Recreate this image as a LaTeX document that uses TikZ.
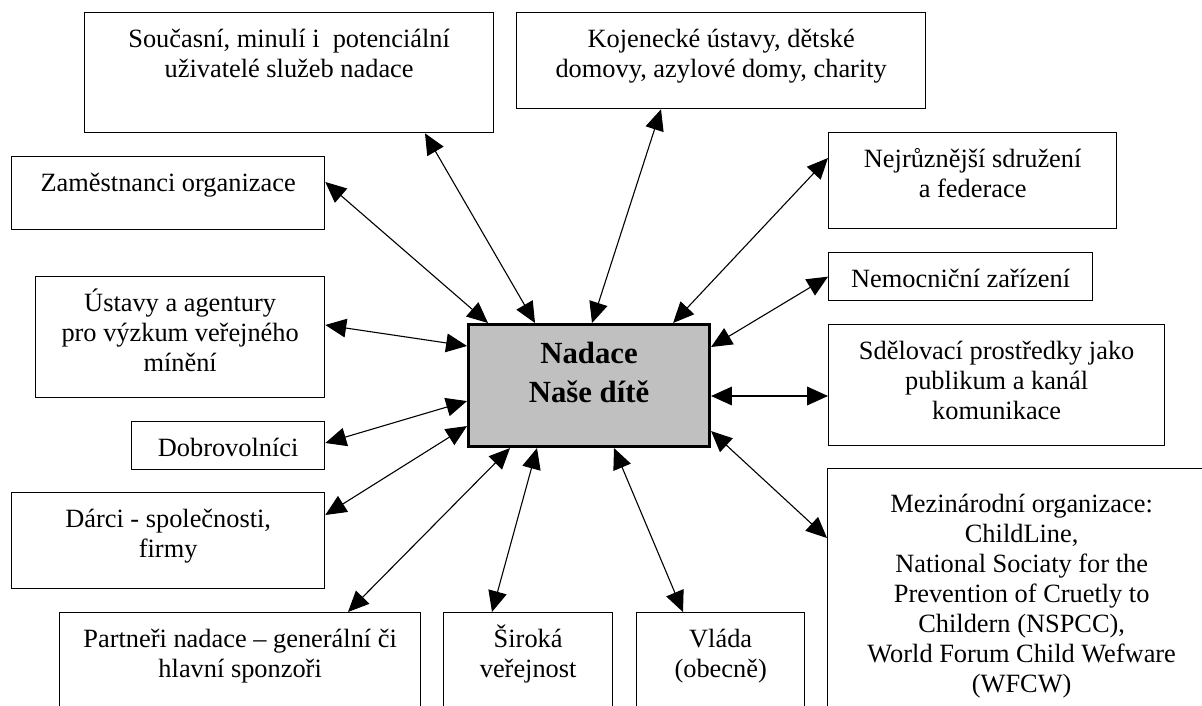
\documentclass[tikz,border=0pt]{standalone}
\usepackage{fontspec}
\setmainfont{Liberation Serif}
\usetikzlibrary{calc,arrows.meta}
\definecolor{nodegray}{HTML}{C0C0C0}

\begin{document}
\begin{tikzpicture}[
      x=0.455pt, y=-0.455pt, % one unit = one pixel of the layout
      box/.style 2 args={draw, line width=0.6pt, anchor=north west, inner sep=0pt, minimum width=#1*0.455pt, minimum height=#2*0.455pt},
      txt/.style={anchor=base, align=center, inner sep=0pt, yshift=-(5+30.1*#1)*0.455pt, font=\fontsize{12}{13.7}\selectfont}, % #1 = number of lines
      txt/.default=1,
      link/.style={line width=0.5pt, {Triangle[length=9.5pt,width=8.5pt]}-{Triangle[length=9.5pt,width=8.5pt]}}
  ]
      \clip (0,0) rectangle (1202,706);
      \fill[white] (0,0) rectangle (1202,706);

      % Centre
      \node (cen) [box={241}{122}, fill=nodegray, line width=1.4pt, label={[anchor=base, align=center, inner sep=0pt, yshift=-79*0.455pt, font=\fontsize{14}{17.3}\selectfont\bfseries]north:{Nadace\\Naše dítě}}] at (467,323) {};

      % Groups round the centre
      \node (soucasni) [box={409}{120}, label={[txt=2]north:{Současní, minulí i\ \ potenciální\\uživatelé služeb nadace}}] at (84,12) {};
      \node (kojen) [box={409}{96}, label={[txt=2]north:{Kojenecké ústavy, dětské\\domovy, azylové domy, charity}}] at (516,12) {};
      \node (zamest) [box={313}{73}, label={[txt]north:{Zaměstnanci organizace}}] at (11,156) {};
      \node (nejruz) [box={288}{96}, label={[txt=2]north:{Nejrůznější sdružení\\a federace}}] at (828,132) {};
      \node (nemoc) [box={264}{48}, label={[txt]north:{Nemocniční zařízení}}] at (828,252) {};
      \node (ustavy) [box={289}{121}, label={[txt=3]north:{Ústavy a agentury\\pro výzkum veřejného\\mínění}}] at (35,276) {};
      \node (sdel) [box={336}{121}, label={[txt=3]north:{Sdělovací prostředky jako\\publikum a kanál\\komunikace}}] at (828,324) {};
      \node (dobrov) [box={193}{48}, label={[txt]north:{Dobrovolníci}}] at (131,421) {};
      \node (darci) [box={313}{96}, label={[txt=2]north:{Dárci - společnosti,\\firmy}}] at (11,492) {};
      \node (mezinar) [box={388}{260}, label={[txt=7, yshift=-9*0.455pt]north:{Mezinárodní organizace:\\ChildLine,\\National Sociaty for the\\Prevention of Cruetly to\\Childern (NSPCC),\\World Forum Child Wefware\\(WFCW)}}] at (827,468) {};
      \node (partneri) [box={361}{130}, label={[txt=2]north:{Partneři nadace – generální či\\hlavní sponzoři}}] at (59,612) {};
      \node (siroka) [box={169}{130}, label={[txt=2]north:{Široká\\veřejnost}}] at (443,612) {};
      \node (vlada) [box={168}{130}, label={[txt=2]north:{Vláda\\(obecně)}}] at (636,612) {};

      % Two-way links
      \draw[link] ($(zamest.north east)+(0,26)$) -- ($(cen.north west)+(21,0)$);
      \draw[link] ($(soucasni.south west)+(341,0)$) -- ($(cen.north west)+(68,0)$);
      \draw[link] ($(kojen.south west)+(145,0)$) -- ($(cen.north west)+(125,0)$);
      \draw[link] ($(nejruz.north west)+(0,26)$) -- ($(cen.north east)+(-38,0)$);
      \draw[link] (nemoc.west) -- ($(cen.north east)+(0,24)$);
      \draw[link] ($(cen.north east)+(0,73)$) -- ($(sdel.north west)+(0,72)$);
      \draw[link] ($(cen.south east)+(0,-17)$) -- ($(mezinar.north west)+(0,70)$);
      \draw[link] ($(cen.south west)+(147,0)$) -- ($(vlada.north west)+(47,0)$);
      \draw[link] ($(cen.south west)+(70,0)$) -- ($(siroka.north west)+(49,0)$);
      \draw[link] ($(cen.south west)+(43,0)$) -- ($(partneri.north west)+(289,0)$);
      \draw[link] ($(cen.south west)+(0,-22)$) -- ($(darci.north east)+(0,23)$);
      \draw[link] ($(cen.south west)+(0,-47)$) -- ($(dobrov.north east)+(0,22)$);
      \draw[link] ($(cen.north west)+(0,23)$) -- ($(ustavy.north east)+(0,49)$);
  \end{tikzpicture}
\end{document}
